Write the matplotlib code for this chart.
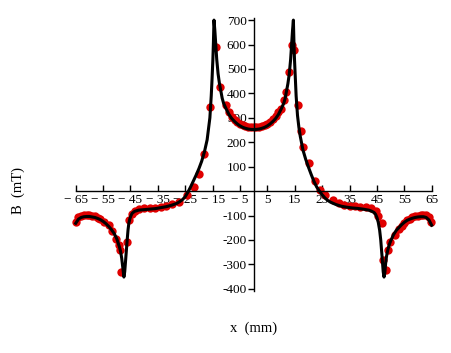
import numpy as np
import matplotlib
matplotlib.use('Agg')
import matplotlib.pyplot as plt

plt.rcParams['font.family'] = ['Liberation Serif', 'DejaVu Serif']

# calculated field profile (black curve), x in mm, B in mT
x_calc = [-65, -64, -63, -62, -61, -60, -59, -58, -57, -56, -55, -54, -53, -52, -51,
          -50, -49.5, -49, -48.6, -48.2, -47.8, -47.4, -47.1, -46.8, -46.5, -46.2,
          -45.9, -45.6, -45.2, -44.8, -44.4, -43.5, -42, -40, -38, -36, -34, -32, -30,
          -28, -27, -26, -25, -24, -23, -22, -21, -20, -19, -18, -17, -16.5, -16,
          -15.5, -15.2, -14.9, -14.7, -14.5, -14.2, -13.9, -13.5, -13, -12.5, -12,
          -11.5, -11, -10, -9, -8, -7, -6, -5, -4, -3, -2, -1, 0,
          1, 2, 3, 4, 5, 6, 7, 8, 9, 10, 11, 11.5, 12, 12.5, 13, 13.5, 13.9, 14.2,
          14.5, 14.7, 14.9, 15.2, 15.5, 16, 16.5, 17, 18, 19, 20, 21, 22, 23, 24, 25,
          26, 27, 28, 30, 32, 34, 36, 38, 40, 42, 43, 44, 44.5, 45, 45.5, 46, 46.4,
          46.7, 47, 47.3, 47.6, 47.9, 48.2, 48.5, 49, 49.5, 50, 51, 52, 53, 54, 55,
          56, 57, 58, 59, 60, 61, 62, 63, 64, 65]
B_calc = [-132, -115, -108, -105, -104, -104, -106, -108, -112, -117, -124, -133, -144,
          -157, -173, -195, -212, -230, -248, -275, -315, -352, -330, -285, -240, -200,
          -160, -132, -112, -100, -91, -83, -78, -76, -74, -72, -68, -64, -58,
          -50, -43, -35, -23, -4, 18, 42, 66, 92, 122, 160, 210, 255, 300,
          390, 460, 540, 610, 700, 660, 610, 540, 480, 440, 410,
          380, 360, 335, 313, 297, 285, 275, 267, 261, 257, 254, 252.5, 252,
          252.5, 254, 257, 261, 267, 275, 285, 297, 313, 335, 360, 380, 410, 440, 480,
          540, 610, 660,
          700, 610, 540, 460, 390, 310, 262, 225, 168, 130, 98, 68, 40, 17, 0, -15,
          -28, -38, -45, -55, -62, -66, -69, -71, -74, -78, -82, -88, -95, -108, -128,
          -160, -200, -240, -285, -330, -352, -335, -295, -268, -240, -220, -205, -180,
          -162, -150, -138, -128, -120, -115, -111, -108, -106, -105, -105, -108, -118,
          -140]

# measured values (red dots)
x_meas = [-64.8, -64, -63, -62, -61, -60, -59, -58, -57, -56, -54.5, -53, -51.6, -50.4,
          -49.3, -48.8, -48.5, -46.4, -45.5, -44.5, -43.5, -42, -40, -38, -36, -34, -32,
          -30, -27.4, -24.3, -21.9, -20.1, -18, -16.1, -13.8, -12.2, -10, -9, -8, -7,
          -6, -5, -4, -3, -2, -1, 0, 1, 2, 3, 4, 5, 6, 7, 8, 9, 9.9, 10.9, 11.8, 13,
          13.9, 14.8, 16.1, 17.2, 18.1, 20.2, 22.4, 24.2, 26, 29, 31, 33, 35, 37, 39,
          41, 43, 44.5, 45.5, 46.7, 47.3, 48.5, 49.1, 49.7, 51.5, 53, 54, 55, 56, 57,
          58, 59, 60, 61, 62, 63, 64, 64.9]
B_meas = [-125, -108, -100, -97, -97, -99, -101, -104, -110, -115, -125, -138, -164, -198,
          -222, -240, -330, -210, -120, -95, -82, -75, -71, -70, -69, -66, -62,
          -53, -44, -16, 18, 70, 151, 345, 591, 427, 352, 325, 305, 292,
          283, 275, 270, 266, 263, 262, 261, 262, 263, 266, 270, 276, 284, 295, 308, 322,
          338, 372, 406, 488,
          598, 577, 352, 247, 181, 113, 42, 4, -16, -37, -48, -55, -60, -62, -64,
          -66, -70, -80, -100, -132, -282, -323, -241, -207, -180, -155, -142, -130,
          -120, -113, -108, -104, -100, -98, -97, -98, -105, -128]

xticks = list(range(-65, 66, 10))
xticklabels = [('\u2212 %d' % -t) if t < 0 else '%d' % t for t in xticks]
yticks = [-400, -300, -200, -100, 100, 200, 300, 400, 500, 600, 700]
yticklabels = [('-%d' % -t) if t < 0 else '%d' % t for t in yticks]

fig = plt.figure(figsize=(4.52, 3.53), dpi=100)
ax = fig.add_axes([0.1675, 0.175, 0.7875, 0.775])

ax.plot(x_meas, B_meas, 'o', color='#e00000', markersize=6, markeredgewidth=0, zorder=2,
        clip_on=False)
ax.plot(x_calc, B_calc, color='black', linewidth=2.2, zorder=3, clip_on=False)

ax.set_xlim(-65, 65)
ax.set_ylim(-410, 710)

for s in ['top', 'right']:
    ax.spines[s].set_visible(False)
ax.spines['left'].set_position(('data', 0))
ax.spines['bottom'].set_position(('data', 0))
ax.spines['left'].set_linewidth(1.0)
ax.spines['bottom'].set_linewidth(1.0)

ax.set_xticks(xticks)
ax.set_xticklabels(xticklabels, fontsize=9.5)
ax.set_yticks(yticks)
ax.set_yticklabels(yticklabels, fontsize=9.5)
ax.tick_params(axis='x', direction='in', length=4, width=1, pad=2)
ax.tick_params(axis='y', direction='out', length=4, width=1, pad=1)

fig.text(0.04, 0.46, 'B  (mT)', rotation=90, ha='center', va='center', fontsize=10.5)
fig.text(0.56, 0.07, 'x  (mm)', ha='center', va='center', fontsize=10.5)

fig.savefig('out.png', dpi=100)
